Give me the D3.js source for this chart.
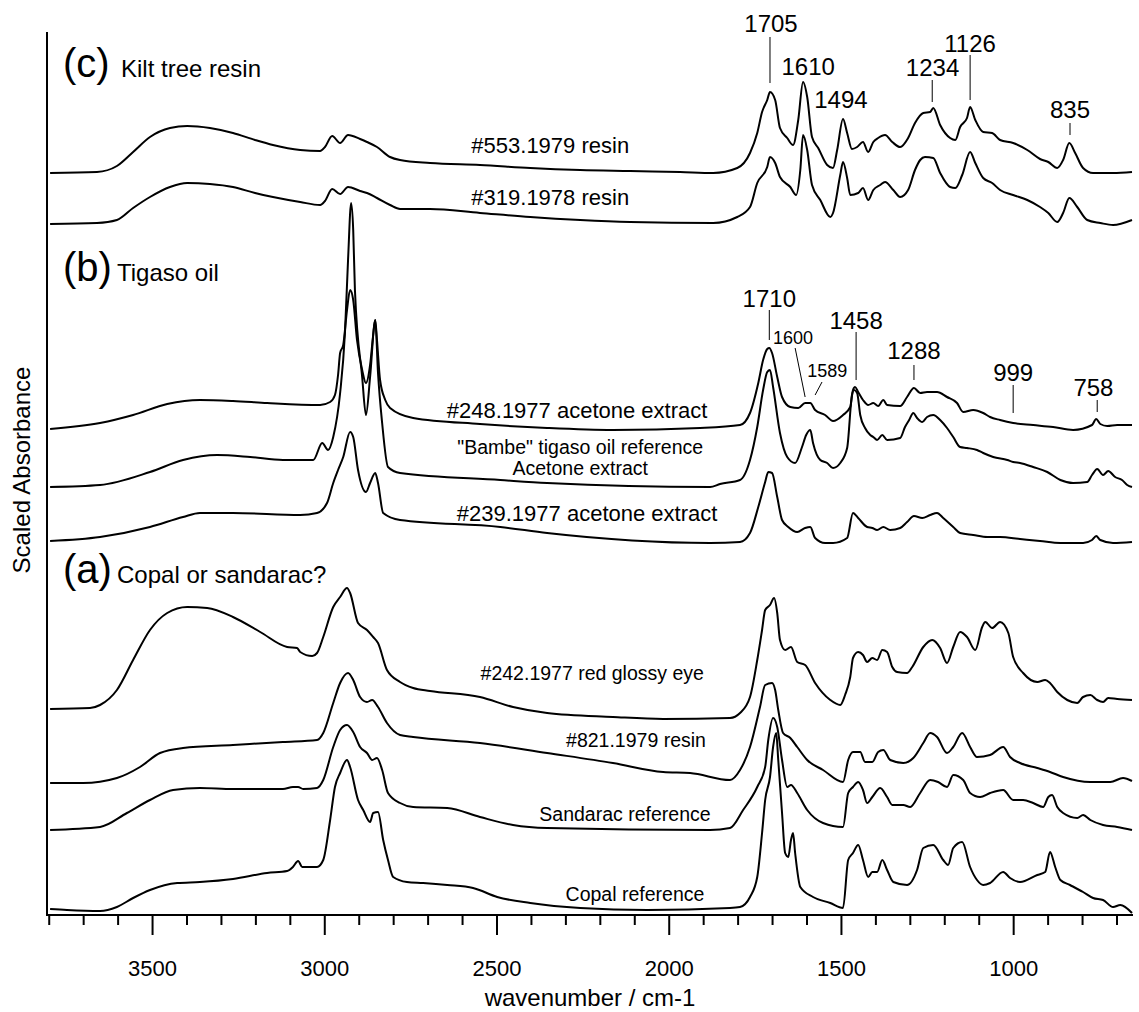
<!DOCTYPE html>
<html><head><meta charset="utf-8">
<script src="https://cdn.jsdelivr.net/npm/d3@7"></script>
<style>body{margin:0;background:#fff}svg{display:block}text{font-family:"Liberation Sans",Arial,sans-serif;fill:#000}</style>
</head><body><div id="chart"></div>
<script>
// ---- data: [wavenumber (cm-1), scaled absorbance (offset, arbitrary units)] ----
const s553 = [[3796,745],[3660,746],[3602,752],[3555,766],[3506,781],[3448,790],[3398,792],[3332,790],[3265,785],[3201,778],[3149,773],[3070,768],[3012,767],[2998,771],[2977,782],[2954,775],[2931,783],[2896,779],[2876,776],[2847,771],[2809,761],[2780,758],[2693,755],[2548,753],[2402,750],[2257,748],[2112,747],[1967,746],[1871,745],[1801,750],[1764,765],[1743,785],[1729,806],[1714,818],[1706,826],[1691,818],[1677,790],[1656,780],[1639,773],[1624,798],[1610,836],[1598,821],[1584,781],[1566,770],[1540,753],[1523,750],[1511,768],[1494,799],[1482,785],[1468,769],[1453,771],[1436,776],[1421,766],[1406,776],[1392,780],[1372,783],[1351,776],[1328,771],[1305,780],[1285,795],[1261,805],[1241,806],[1232,810],[1212,793],[1183,780],[1168,778],[1154,791],[1134,800],[1125,811],[1110,798],[1087,786],[1061,785],[1038,778],[1000,775],[959,768],[922,759],[898,756],[872,750],[855,758],[837,775],[820,765],[797,750],[768,745],[710,745],[655,746]];
const s319 = [[3796,694],[3660,695],[3602,698],[3555,710],[3506,721],[3448,731],[3398,735],[3332,734],[3265,731],[3201,725],[3149,721],[3070,716],[3012,713],[2998,717],[2977,729],[2954,724],[2931,731],[2896,727],[2876,725],[2847,720],[2809,713],[2780,709],[2693,709],[2548,705],[2402,701],[2257,698],[2112,696],[1871,695],[1801,701],[1764,711],[1743,735],[1714,751],[1706,761],[1691,755],[1677,741],[1647,731],[1630,723],[1618,748],[1610,783],[1598,768],[1584,733],[1560,718],[1531,701],[1523,705],[1502,743],[1494,756],[1482,740],[1473,723],[1450,725],[1436,730],[1421,718],[1406,728],[1386,733],[1372,736],[1348,728],[1328,721],[1305,728],[1285,748],[1270,758],[1256,761],[1232,760],[1212,745],[1183,731],[1168,730],[1148,743],[1125,766],[1110,755],[1087,740],[1061,735],[1038,728],[1000,723],[959,718],[922,711],[898,705],[872,696],[855,705],[837,720],[814,711],[785,698],[747,695],[710,693],[655,698]];
const s248 = [[3796,489],[3651,495],[3555,503],[3456,514],[3361,518],[3265,517],[3166,515],[3012,513],[2983,516],[2969,523],[2960,543],[2954,565],[2945,573],[2934,608],[2925,628],[2916,618],[2905,578],[2890,548],[2879,535],[2867,553],[2858,583],[2852,598],[2847,578],[2838,538],[2823,518],[2809,510],[2742,500],[2548,494],[2353,490],[2162,488],[1909,490],[1793,493],[1764,505],[1740,535],[1726,558],[1714,569],[1708,570],[1700,565],[1685,541],[1671,521],[1647,511],[1624,510],[1604,515],[1589,515],[1575,508],[1546,503],[1523,497],[1494,503],[1473,511],[1465,528],[1459,531],[1450,526],[1436,518],[1421,513],[1406,515],[1392,512],[1377,518],[1366,513],[1328,512],[1308,521],[1288,530],[1270,525],[1250,526],[1221,526],[1192,521],[1163,515],[1145,506],[1116,508],[1087,505],[1067,501],[1038,498],[1000,495],[942,493],[884,491],[826,488],[771,493],[759,499],[747,494],[727,492],[698,493],[655,493]];
const sBambe = [[3796,431],[3651,433],[3506,446],[3410,458],[3311,463],[3215,461],[3120,458],[3032,458],[3006,475],[2989,468],[2974,481],[2954,525],[2940,585],[2931,658],[2922,715],[2916,688],[2911,628],[2890,541],[2879,503],[2867,541],[2852,598],[2844,545],[2832,495],[2815,451],[2780,445],[2489,438],[2353,435],[1880,431],[1851,434],[1793,438],[1764,458],[1743,491],[1726,528],[1714,546],[1706,548],[1697,531],[1677,485],[1656,461],[1633,455],[1613,471],[1601,483],[1589,488],[1581,475],[1560,458],[1540,455],[1523,450],[1502,455],[1482,470],[1468,523],[1462,528],[1453,525],[1444,503],[1430,490],[1415,483],[1406,481],[1395,478],[1380,483],[1366,478],[1328,480],[1314,491],[1302,498],[1290,505],[1279,500],[1264,496],[1250,501],[1232,503],[1212,498],[1192,490],[1174,481],[1154,471],[1134,470],[1105,468],[1087,465],[1058,461],[1017,458],[1000,456],[980,455],[942,451],[901,446],[863,438],[826,435],[785,436],[771,443],[756,449],[739,443],[724,447],[704,441],[684,438],[669,433],[655,431]];
const s239 = [[3796,377],[3651,381],[3506,391],[3410,401],[3361,405],[3265,405],[3070,403],[3021,405],[2992,415],[2974,435],[2960,448],[2945,461],[2925,486],[2916,481],[2902,448],[2879,426],[2867,435],[2852,445],[2844,435],[2829,405],[2780,398],[2489,391],[2353,385],[1880,375],[1793,376],[1764,385],[1740,411],[1720,436],[1711,446],[1700,445],[1685,421],[1671,398],[1653,391],[1627,386],[1604,390],[1589,391],[1575,380],[1546,375],[1523,375],[1482,380],[1465,405],[1450,400],[1424,391],[1409,390],[1395,388],[1377,391],[1357,388],[1328,390],[1308,396],[1288,402],[1264,400],[1241,403],[1221,405],[1203,400],[1174,391],[1154,385],[1116,383],[1075,381],[1038,381],[980,379],[922,377],[863,375],[797,375],[771,378],[759,382],[747,378],[710,375],[655,376]];
const s242 = [[3796,209],[3680,210],[3651,213],[3602,228],[3555,258],[3506,288],[3456,305],[3398,311],[3340,310],[3265,301],[3186,286],[3108,271],[3079,270],[3070,266],[3035,262],[3021,265],[3003,281],[2974,311],[2954,321],[2934,330],[2925,325],[2902,295],[2876,288],[2858,281],[2844,275],[2818,248],[2780,236],[2742,230],[2693,227],[2548,221],[2452,211],[2353,205],[2162,201],[2016,199],[1822,200],[1793,205],[1764,221],[1743,258],[1729,288],[1720,308],[1706,313],[1694,320],[1685,305],[1677,278],[1662,268],[1645,271],[1627,256],[1604,253],[1575,235],[1531,218],[1502,213],[1488,223],[1473,241],[1465,260],[1450,266],[1436,263],[1424,256],[1409,260],[1395,258],[1380,268],[1366,266],[1351,251],[1337,246],[1308,245],[1293,251],[1261,271],[1235,278],[1212,270],[1192,255],[1174,271],[1154,286],[1134,281],[1110,268],[1090,291],[1081,296],[1061,290],[1038,296],[1014,285],[1000,261],[971,245],[930,236],[907,238],[893,235],[872,226],[843,218],[814,215],[797,221],[776,223],[756,218],[739,216],[724,220],[698,219],[655,218]];
const s821 = [[3796,135],[3700,135],[3602,140],[3535,151],[3477,165],[3410,170],[3265,173],[3120,176],[3021,178],[3003,185],[2974,215],[2954,235],[2931,245],[2916,238],[2896,221],[2876,216],[2861,218],[2844,211],[2818,195],[2780,183],[2742,181],[2548,175],[2353,165],[2162,155],[2016,146],[1938,145],[1822,138],[1793,148],[1764,171],[1735,211],[1720,233],[1700,235],[1691,228],[1682,208],[1668,185],[1647,180],[1627,171],[1598,158],[1552,148],[1494,136],[1479,158],[1465,166],[1444,166],[1430,156],[1409,156],[1392,166],[1377,168],[1357,158],[1319,155],[1290,160],[1261,175],[1241,185],[1221,181],[1192,165],[1174,171],[1148,185],[1125,171],[1105,161],[1067,163],[1029,171],[1009,161],[980,155],[930,150],[893,146],[855,141],[776,136],[718,136],[681,140],[655,137]];
const sSandarac = [[3796,88],[3651,91],[3573,105],[3506,118],[3439,128],[3361,130],[3265,129],[3120,129],[3091,131],[3076,131],[3061,129],[3021,130],[3003,138],[2974,171],[2954,188],[2934,193],[2916,186],[2896,171],[2876,165],[2861,158],[2847,160],[2832,148],[2815,125],[2780,115],[2742,111],[2643,110],[2548,101],[2452,93],[2353,90],[1880,88],[1822,90],[1784,108],[1743,131],[1720,151],[1711,178],[1697,200],[1685,191],[1671,158],[1656,131],[1645,133],[1627,125],[1598,108],[1552,95],[1494,91],[1479,125],[1465,131],[1450,136],[1436,128],[1424,115],[1409,121],[1386,130],[1366,121],[1351,113],[1319,113],[1299,111],[1270,125],[1241,138],[1218,136],[1192,131],[1174,143],[1145,138],[1125,125],[1096,121],[1067,125],[1029,128],[1000,118],[971,118],[942,115],[913,111],[898,121],[887,123],[872,111],[855,105],[814,100],[797,103],[776,98],[739,93],[698,91],[655,88]];
const sCopal = [[3796,9],[3747,8],[3651,7],[3602,11],[3555,20],[3506,28],[3427,35],[3361,36],[3265,39],[3166,45],[3108,47],[3091,51],[3076,57],[3064,51],[3021,51],[3003,58],[2983,98],[2969,131],[2954,145],[2934,158],[2925,151],[2902,118],[2887,108],[2867,96],[2858,105],[2844,106],[2829,78],[2815,58],[2800,41],[2760,36],[2713,35],[2643,33],[2568,30],[2498,21],[2402,15],[2257,10],[2063,8],[1822,10],[1793,11],[1764,21],[1743,41],[1729,85],[1720,118],[1706,141],[1697,171],[1688,185],[1682,158],[1671,105],[1662,65],[1653,61],[1645,78],[1639,85],[1633,65],[1618,31],[1581,21],[1531,15],[1494,10],[1479,58],[1465,65],[1450,73],[1436,58],[1421,41],[1409,46],[1395,46],[1380,58],[1366,48],[1348,36],[1308,33],[1279,48],[1261,70],[1232,73],[1203,58],[1189,53],[1174,70],[1148,76],[1125,51],[1105,38],[1087,33],[1067,35],[1029,46],[1009,40],[980,36],[930,43],[907,46],[893,66],[878,51],[863,38],[835,33],[797,26],[768,20],[739,18],[710,11],[689,13],[655,5]];

const seriesList = [s553, s319, s248, sBambe, s239, s242, s821, sSandarac, sCopal];

// trace labels: text, wavenumber (centre), absorbance (centre), size
const traceLabels = [
  ["#553.1979 resin", 2344, 773, 22],
  ["#319.1978 resin", 2344, 721, 22],
  ["#248.1977 acetone extract", 2266, 508, 22],
  ["\"Bambe\" tigaso oil reference", 2257, 471, 19.5],
  ["Acetone extract", 2257, 450, 19.5],
  ["#239.1977 acetone extract", 2237, 405, 22],
  ["#242.1977 red glossy eye", 2222, 245, 19.5],
  ["#821.1979 resin", 2095, 178, 19.5],
  ["Sandarac reference", 2127, 104, 19.5],
  ["Copal reference", 2098, 24, 19.5]
];

// peak annotations: label, text wavenumber, text absorbance, size, leader [w1,a1,w2,a2] or null
const peakLabels = [
  ["1705", 1703, 895, 24, [1706, 881, 1706, 835]],
  ["1610", 1595, 852, 24, null],
  ["1494", 1500, 819, 24, null],
  ["1234", 1234, 851, 24, [1235, 838, 1235, 816]],
  ["1126", 1125, 875, 24, [1125, 863, 1125, 818]],
  ["835", 835, 809, 24, [835, 795, 835, 783]],
  ["1710", 1708, 620, 24, [1708, 608, 1708, 578]],
  ["1600", 1639, 580, 18, [1633, 570, 1604, 521]],
  ["1589", 1540, 547, 18, [1555, 536, 1575, 523]],
  ["1458", 1456, 598, 24, [1456, 586, 1456, 538]],
  ["1288", 1288, 568, 24, [1288, 553, 1288, 538]],
  ["999", 1000, 546, 24, [1000, 533, 1000, 505]],
  ["758", 767, 531, 24, [756, 518, 756, 506]]
];

// panel headings: letter, title, absorbance of baseline
const panelTitles = [["(c)", "Kilt tree resin", 841], ["(b)", "Tigaso oil", 637], ["(a)", "Copal or sandarac?", 335]];

const majorTicks = [3500, 3000, 2500, 2000, 1500, 1000];
const minorTicks = d3.range(3800, 650, -100);

// ---- drawing ----
const W = 1139, H = 1012;
const svg = d3.select("#chart").append("svg").attr("width", W).attr("height", H);
const x = d3.scaleLinear().domain([3805, 655]).range([47, 1132]);
const y = d3.scaleLinear().domain([3, 886]).range([915, 32]);

const line = d3.line().x(d => x(d[0])).y(d => y(d[1])).curve(d3.curveMonotoneX);
svg.append("g").selectAll("path").data(seriesList).join("path")
  .attr("d", line).attr("fill", "none").attr("stroke", "#000").attr("stroke-width", 2).attr("stroke-linejoin", "round");

// axes
const gx = svg.append("g").attr("transform", `translate(0,${y(3)})`);
gx.append("g").call(d3.axisBottom(x).tickValues(minorTicks.filter(t => t % 500 !== 0)).tickSize(10).tickSizeOuter(0).tickFormat(""))
  .call(g => g.select(".domain").remove());
gx.append("g").call(d3.axisBottom(x).tickValues(majorTicks).tickSize(20).tickSizeOuter(0).tickPadding(25).tickFormat(d3.format("d")))
  .call(g => g.select(".domain").remove())
  .call(g => g.selectAll("text").attr("font-size", 22).attr("font-family", "'Liberation Sans',Arial,sans-serif"));
gx.selectAll(".tick line").attr("stroke", "#000").attr("stroke-width", 2);
svg.append("line").attr("x1", 46).attr("x2", 1133).attr("y1", y(3)).attr("y2", y(3)).attr("stroke", "#000").attr("stroke-width", 2);
svg.append("line").attr("x1", 47).attr("x2", 47).attr("y1", 32).attr("y2", y(3) + 1).attr("stroke", "#000").attr("stroke-width", 2);

svg.append("text").attr("x", 590).attr("y", 1006).attr("text-anchor", "middle").attr("font-size", 24).text("wavenumber / cm-1");
svg.append("text").attr("transform", "translate(30,470) rotate(-90)").attr("text-anchor", "middle").attr("font-size", 24).text("Scaled Absorbance");

// panel titles
panelTitles.forEach(([p, t, a]) => {
  svg.append("text").attr("x", 63).attr("y", y(a)).attr("font-size", 40).text(p);
  svg.append("text").attr("x", p === "(c)" ? 121 : 117).attr("y", y(a)).attr("font-size", 24).text(t);
});

// trace labels
svg.append("g").selectAll("text").data(traceLabels).join("text")
  .attr("x", d => x(d[1])).attr("y", d => y(d[2])).attr("text-anchor", "middle").attr("dominant-baseline", "central")
  .attr("font-size", d => d[3]).text(d => d[0]);

// peak labels
const pk = svg.append("g");
pk.selectAll("text").data(peakLabels).join("text")
  .attr("x", d => x(d[1])).attr("y", d => y(d[2])).attr("text-anchor", "middle").attr("dominant-baseline", "central")
  .attr("font-size", d => d[3]).text(d => d[0]);
pk.selectAll("line").data(peakLabels.filter(d => d[4])).join("line")
  .attr("x1", d => x(d[4][0])).attr("y1", d => y(d[4][1])).attr("x2", d => x(d[4][2])).attr("y2", d => y(d[4][3]))
  .attr("stroke", "#000").attr("stroke-width", 1);
</script></body></html>
